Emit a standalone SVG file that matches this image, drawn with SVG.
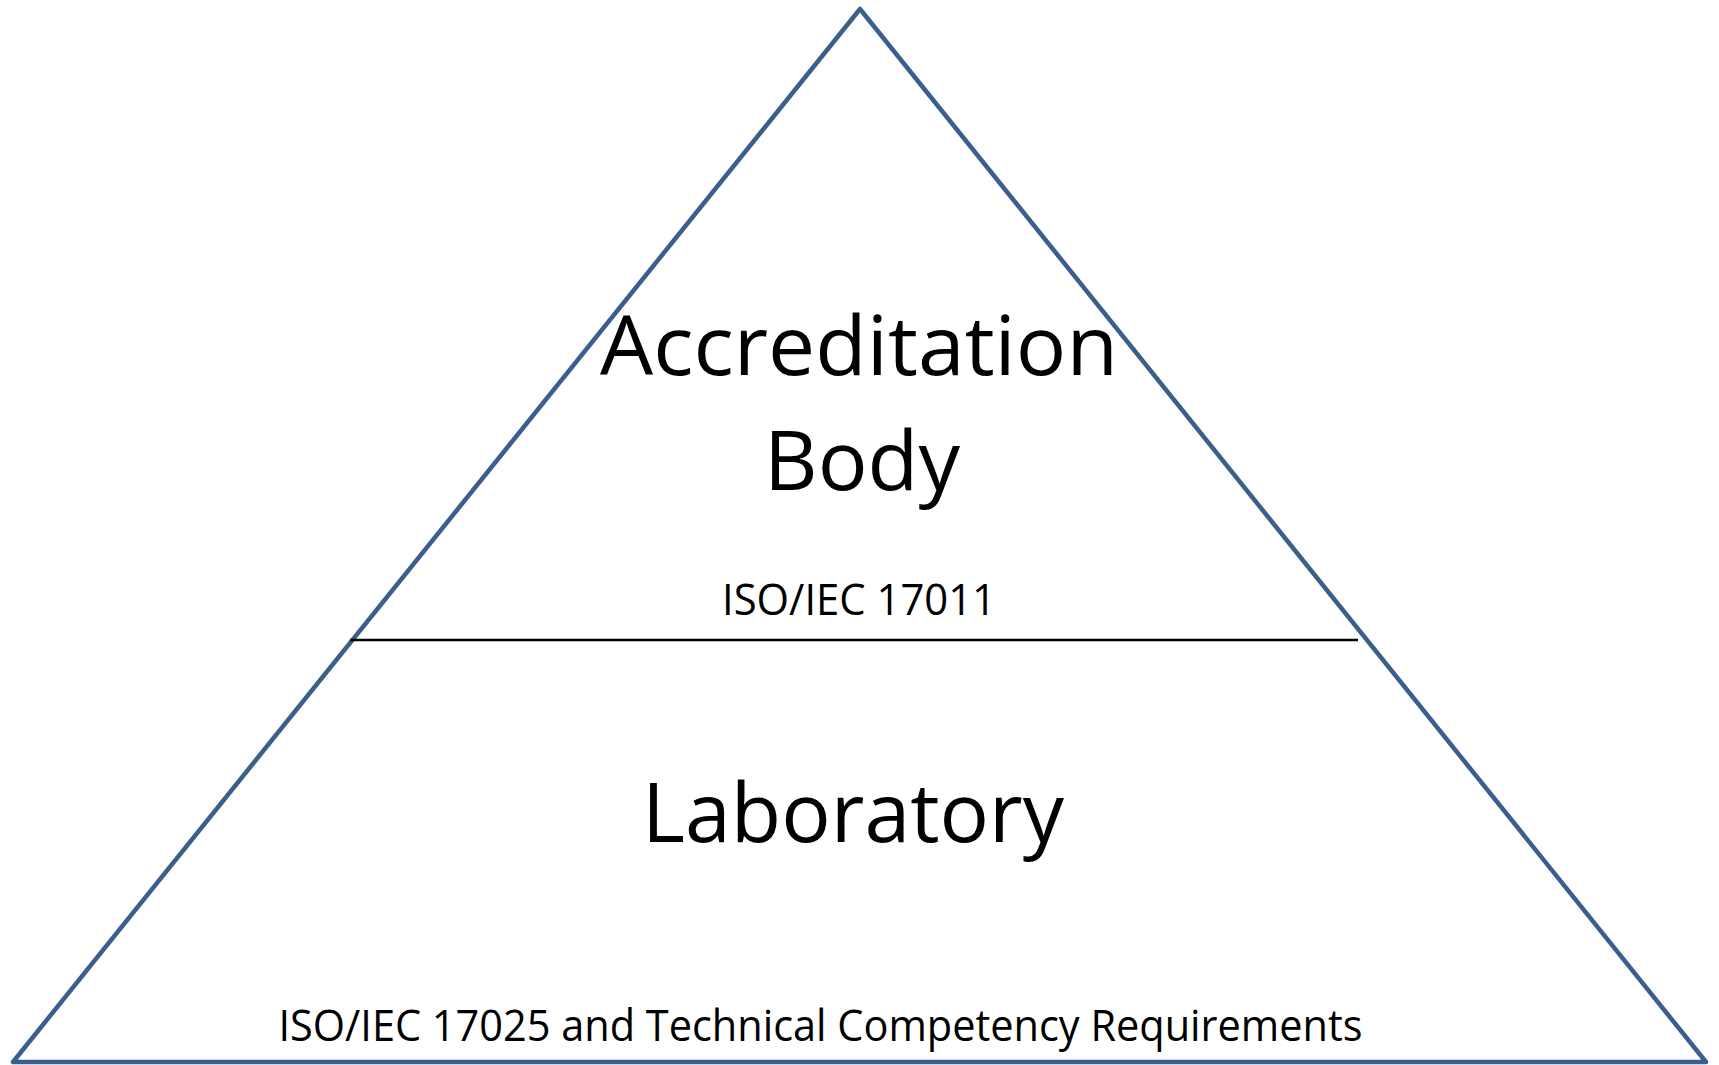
<svg xmlns="http://www.w3.org/2000/svg" width="1719" height="1065" viewBox="0 0 1719 1065">
  <style>
    .big { font-family: "Open Sans", "Liberation Sans", sans-serif; font-size: 83px; fill: #000; }
    .small { font-family: "Open Sans", "Liberation Sans", sans-serif; font-size: 43px; fill: #000; }
  </style>
  <rect width="1719" height="1065" fill="#ffffff"/>
  <g id="pyramid">
    <polygon points="860,9 13,1062 1706,1062" fill="#ffffff" stroke="#3A5F8C" stroke-width="4.5" stroke-linejoin="round"/>
  </g>
  <g id="connectors">
    <line x1="350" y1="640" x2="1358" y2="640" stroke="#000" stroke-width="2.5"/>
  </g>
  <g id="accreditation-body">
    <text class="big" x="859" y="375" text-anchor="middle" textLength="518" lengthAdjust="spacingAndGlyphs">Accreditation</text>
    <text class="big" x="862" y="490" text-anchor="middle" textLength="196" lengthAdjust="spacingAndGlyphs">Body</text>
    <text class="small" x="859" y="615" text-anchor="middle" textLength="274" lengthAdjust="spacingAndGlyphs">ISO/IEC 17011</text>
  </g>
  <g id="laboratory">
    <text class="big" x="853" y="842" text-anchor="middle" textLength="422" lengthAdjust="spacingAndGlyphs">Laboratory</text>
    <text class="small" x="820.5" y="1041" text-anchor="middle" textLength="1084" lengthAdjust="spacingAndGlyphs">ISO/IEC 17025 and Technical Competency Requirements</text>
  </g>
</svg>
